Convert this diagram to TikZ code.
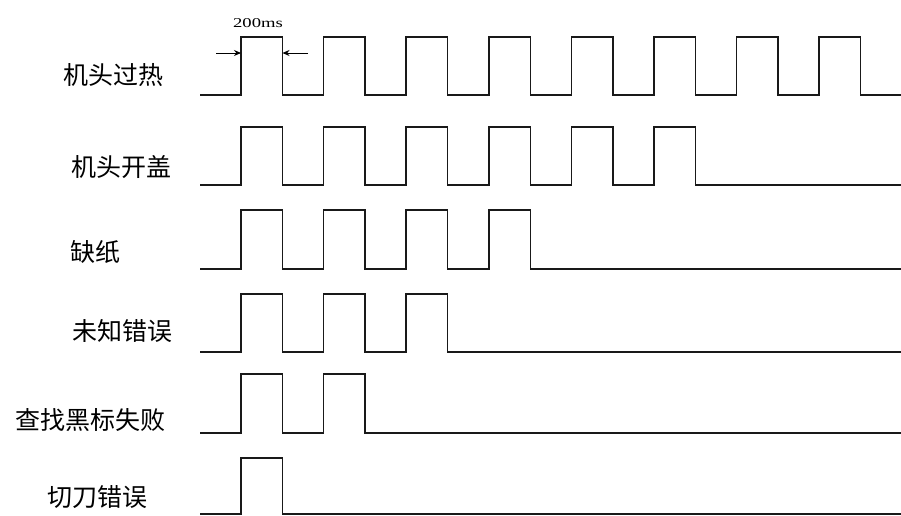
\documentclass[tikz,border=0pt]{standalone}
\usepackage{fontspec}
\setmainfont{Liberation Serif}
\newfontfamily\cjk{Noto Sans CJK SC}
\usetikzlibrary{arrows.meta}
\begin{document}
\begin{tikzpicture}[x=1pt,y=-1pt,
  wave/.style={line width=1.5pt, line join=miter, color=black!90},
  lab/.style={font=\cjk\fontsize{25}{25}\selectfont, inner sep=0pt, anchor=center},
  dimarrow/.style={line width=0.9pt, -{Stealth[length=7pt,width=6pt]}}]
\useasboundingbox (0,0) rectangle (901,515);
% waveforms
\foreach \hy/\ly/\n in {37/95/8,127/185/6,210/269/4,294/352/3,374/433/2,458/514/1} {
  \draw[wave] (200,\ly)
    \foreach \k in {1,...,\n} {
      -- ({241+82.6*(\k-1)},\ly) -- ({241+82.6*(\k-1)},\hy)
      -- ({282.5+82.6*(\k-1)},\hy) -- ({282.5+82.6*(\k-1)},\ly)
    } -- (901,\ly);
}
% labels
\node[lab] (l1) at (113.5,75) {机头过热};
\node[lab] (l2) at (121.5,167) {机头开盖};
\node[lab] (l3) at (95,252) {缺纸};
\node[lab] (l4) at (122.5,331) {未知错误};
\node[lab] (l5) at (90.5,420) {查找黑标失败};
\node[lab] (l6) at (97.5,497) {切刀错误};
% 200ms dimension
\node[inner sep=0pt] (ms) at (258,23) {\fontsize{13.5}{13.5}\selectfont\scalebox{1.38}[1]{200ms}};
\coordinate (a1s) at (216,53);
\coordinate (a1t) at (241,53);
\coordinate (a2s) at (308,53);
\coordinate (a2t) at (282.5,53);
\draw[dimarrow] (a1s) -- (a1t);
\draw[dimarrow] (a2s) -- (a2t);
\end{tikzpicture}
\end{document}
